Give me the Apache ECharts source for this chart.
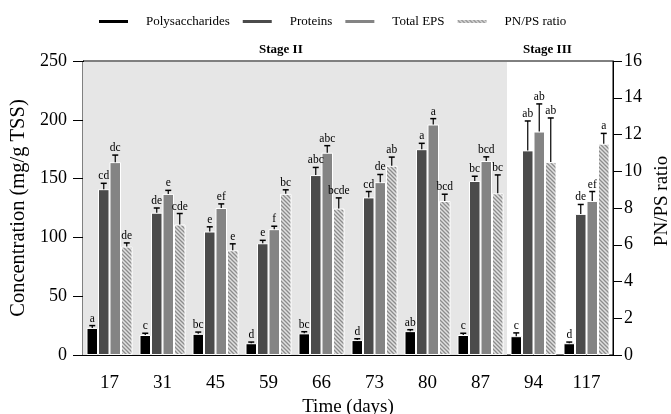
<!DOCTYPE html>
<html>
<head>
<meta charset="utf-8">
<script src="https://cdn.jsdelivr.net/npm/echarts@6/dist/echarts.min.js"></script>
<style>
  html, body { margin: 0; padding: 0; background: #fff; }
  #chart { width: 671px; height: 414px; }
</style>
</head>
<body>
<div id="chart"></div>
<script>
// EPS composition over time
const days = ['17', '31', '45', '59', '66', '73', '80', '87', '94', '117'];

const polysaccharides = [23, 17, 18, 10, 18.4, 12.7, 20.3, 17, 16, 10];
const polyErr = [2, 1.5, 1.5, 1, 1.4, 1.1, 1.2, 1.5, 2.8, 1];
const polyLetters = ['a', 'c', 'bc', 'd', 'bc', 'd', 'ab', 'c', 'c', 'd'];

const proteins = [141, 121, 105, 95, 153, 134, 175, 148, 174, 120];
const protErr = [5, 4, 4, 2.5, 6.5, 5, 5, 4, 25, 8];
const protLetters = ['cd', 'de', 'e', 'e', 'abc', 'cd', 'a', 'bc', 'ab', 'de'];

const totalEps = [164, 137, 125, 107, 172, 147, 196, 165, 190, 131];
const epsErr = [6, 3, 3.5, 2.5, 6, 6.5, 5, 3.5, 23.5, 8];
const epsLetters = ['dc', 'e', 'ef', 'f', 'abc', 'de', 'a', 'bcd', 'ab', 'ef'];

const pnpsRatio = [5.9, 7.1, 5.7, 8.77, 7.97, 10.3, 8.38, 8.8, 10.5, 11.5];
const ratioErr = [0.2, 0.6, 0.35, 0.22, 0.58, 0.47, 0.37, 1.0, 2.4, 0.56];
const ratioLetters = ['de', 'cde', 'e', 'bc', 'bcde', 'ab', 'bcd', 'bc', 'ab', 'a'];

const lastStage2 = 7; // index of day 87

const FONT = "'Liberation Serif', 'Times New Roman', serif";
const BAR_W = 11.5;

function makeHatch() {
  const c = document.createElement('canvas');
  c.width = 4; c.height = 4;
  const ctx = c.getContext('2d');
  ctx.fillStyle = '#e0e0e0';
  ctx.fillRect(0, 0, 4, 4);
  ctx.strokeStyle = '#8c8c8c';
  ctx.lineWidth = 1.3;
  ctx.beginPath();
  ctx.moveTo(-1, -1); ctx.lineTo(5, 5);
  ctx.moveTo(-1, 3); ctx.lineTo(1, 5);
  ctx.moveTo(3, -1); ctx.lineTo(5, 1);
  ctx.stroke();
  return c;
}
const hatch = { image: makeHatch(), repeat: 'repeat' };

function errorRender(pos, letters) {
  return function (params, api) {
    const idx = api.value(0);
    const bar = api.coord([idx, api.value(1)]);
    const top = api.coord([idx, api.value(1) + api.value(2)]);
    const x = bar[0] + (pos - 1.5) * BAR_W;
    return {
      type: 'group',
      children: [
        { type: 'line', shape: { x1: x, y1: bar[1], x2: x, y2: top[1] }, style: { stroke: '#000', lineWidth: 1.2 } },
        { type: 'line', shape: { x1: x - 3, y1: top[1], x2: x + 3, y2: top[1] }, style: { stroke: '#000', lineWidth: 1.5 } },
        { type: 'text', style: { x: x, y: top[1] - 1, text: letters[idx], fill: '#000', fontSize: 11.5, fontFamily: FONT, align: 'center', verticalAlign: 'bottom' } }
      ]
    };
  };
}

function errData(vals, errs) {
  return vals.map((v, k) => [k, v, errs[k]]);
}

function errSeries(pos, vals, errs, letters, yIdx) {
  return {
    type: 'custom',
    name: 'err' + pos,
    yAxisIndex: yIdx,
    silent: true,
    z: 5,
    renderItem: errorRender(pos, letters),
    encode: { x: 0, y: 1 },
    data: errData(vals, errs)
  };
}

const chart = echarts.init(document.getElementById('chart'));

const barBase = {
  type: 'bar',
  barWidth: BAR_W,
  barGap: '0%',
  z: 3
};

const option = {
  animation: false,
  textStyle: { fontFamily: FONT },
  grid: {
    left: 83, right: 58, top: 61, bottom: 59,
    outerBoundsMode: 'none',
    show: true, borderColor: '#000', borderWidth: 1, backgroundColor: 'transparent'
  },
  legend: {
    left: 92, top: 10,
    itemWidth: 31, itemHeight: 5, itemGap: 11,
    icon: 'rect',
    textStyle: { fontFamily: FONT, fontSize: 13, color: '#000', padding: [0, 0, 0, 12] },
    data: ['Polysaccharides', 'Proteins', 'Total EPS', 'PN/PS ratio']
  },
  xAxis: {
    type: 'category',
    data: days,
    name: 'Time (days)',
    nameLocation: 'middle',
    nameGap: 40,
    nameTextStyle: { fontFamily: FONT, fontSize: 19, color: '#000' },
    axisLine: { lineStyle: { color: '#000', width: 1 } },
    axisTick: { alignWithLabel: true, length: 11, lineStyle: { color: '#000', width: 1.5 } },
    axisLabel: { fontFamily: FONT, fontSize: 19, color: '#000', margin: 19 }
  },
  yAxis: [{
    type: 'value',
    min: 0, max: 250, interval: 50,
    name: 'Concentration (mg/g TSS)',
    nameLocation: 'middle',
    nameGap: 47,
    nameTextStyle: { fontFamily: FONT, fontSize: 20.5, color: '#000' },
    axisLine: { show: true, lineStyle: { color: '#000', width: 1 } },
    axisTick: { show: true, length: 10, lineStyle: { color: '#000' } },
    axisLabel: { fontFamily: FONT, fontSize: 18, color: '#000', margin: 16 },
    splitLine: { show: false }
  }, {
    type: 'value',
    position: 'right',
    min: 0, max: 16, interval: 2,
    name: 'PN/PS ratio',
    nameLocation: 'middle',
    nameGap: 34,
    nameTextStyle: { fontFamily: FONT, fontSize: 19, color: '#000', padding: [0, 0, 0, 14] },
    axisLine: { show: true, lineStyle: { color: '#000', width: 1 } },
    axisTick: { show: true, length: 9, lineStyle: { color: '#000' } },
    axisLabel: { fontFamily: FONT, fontSize: 18, color: '#000', margin: 11 },
    splitLine: { show: false }
  }],
  graphic: [
    { type: 'text', left: 259, top: 43, style: { text: 'Stage II', font: 'bold 13px ' + FONT, fill: '#000' } },
    { type: 'text', left: 523, top: 43, style: { text: 'Stage III', font: 'bold 13px ' + FONT, fill: '#000' } }
  ],
  series: [
    {
      type: 'custom',
      name: 'stageBg',
      silent: true,
      z: 1,
      encode: { x: 0, y: 1 },
      data: [[lastStage2, 0]],
      renderItem: function (params, api) {
        const cs = params.coordSys;
        const xEnd = api.coord([api.value(0), 0])[0] + api.size([1, 0])[0] / 2;
        return {
          type: 'rect',
          shape: { x: cs.x, y: cs.y + 1, width: xEnd - cs.x, height: cs.height - 1 },
          style: { fill: '#e6e6e6' }
        };
      }
    },
    Object.assign({}, barBase, { name: 'Polysaccharides', data: polysaccharides, itemStyle: { color: '#000', borderColor: '#fff', borderWidth: 1 } }),
    Object.assign({}, barBase, { name: 'Proteins', data: proteins, itemStyle: { color: '#4b4b4b', borderColor: '#fff', borderWidth: 1 } }),
    Object.assign({}, barBase, { name: 'Total EPS', data: totalEps, itemStyle: { color: '#848484', borderColor: '#fff', borderWidth: 1 } }),
    Object.assign({}, barBase, { name: 'PN/PS ratio', yAxisIndex: 1, data: pnpsRatio, itemStyle: { color: hatch, borderColor: '#fff', borderWidth: 1 } }),
    errSeries(0, polysaccharides, polyErr, polyLetters, 0),
    errSeries(1, proteins, protErr, protLetters, 0),
    errSeries(2, totalEps, epsErr, epsLetters, 0),
    errSeries(3, pnpsRatio, ratioErr, ratioLetters, 1)
  ]
};

chart.setOption(option);
</script>
</body>
</html>
